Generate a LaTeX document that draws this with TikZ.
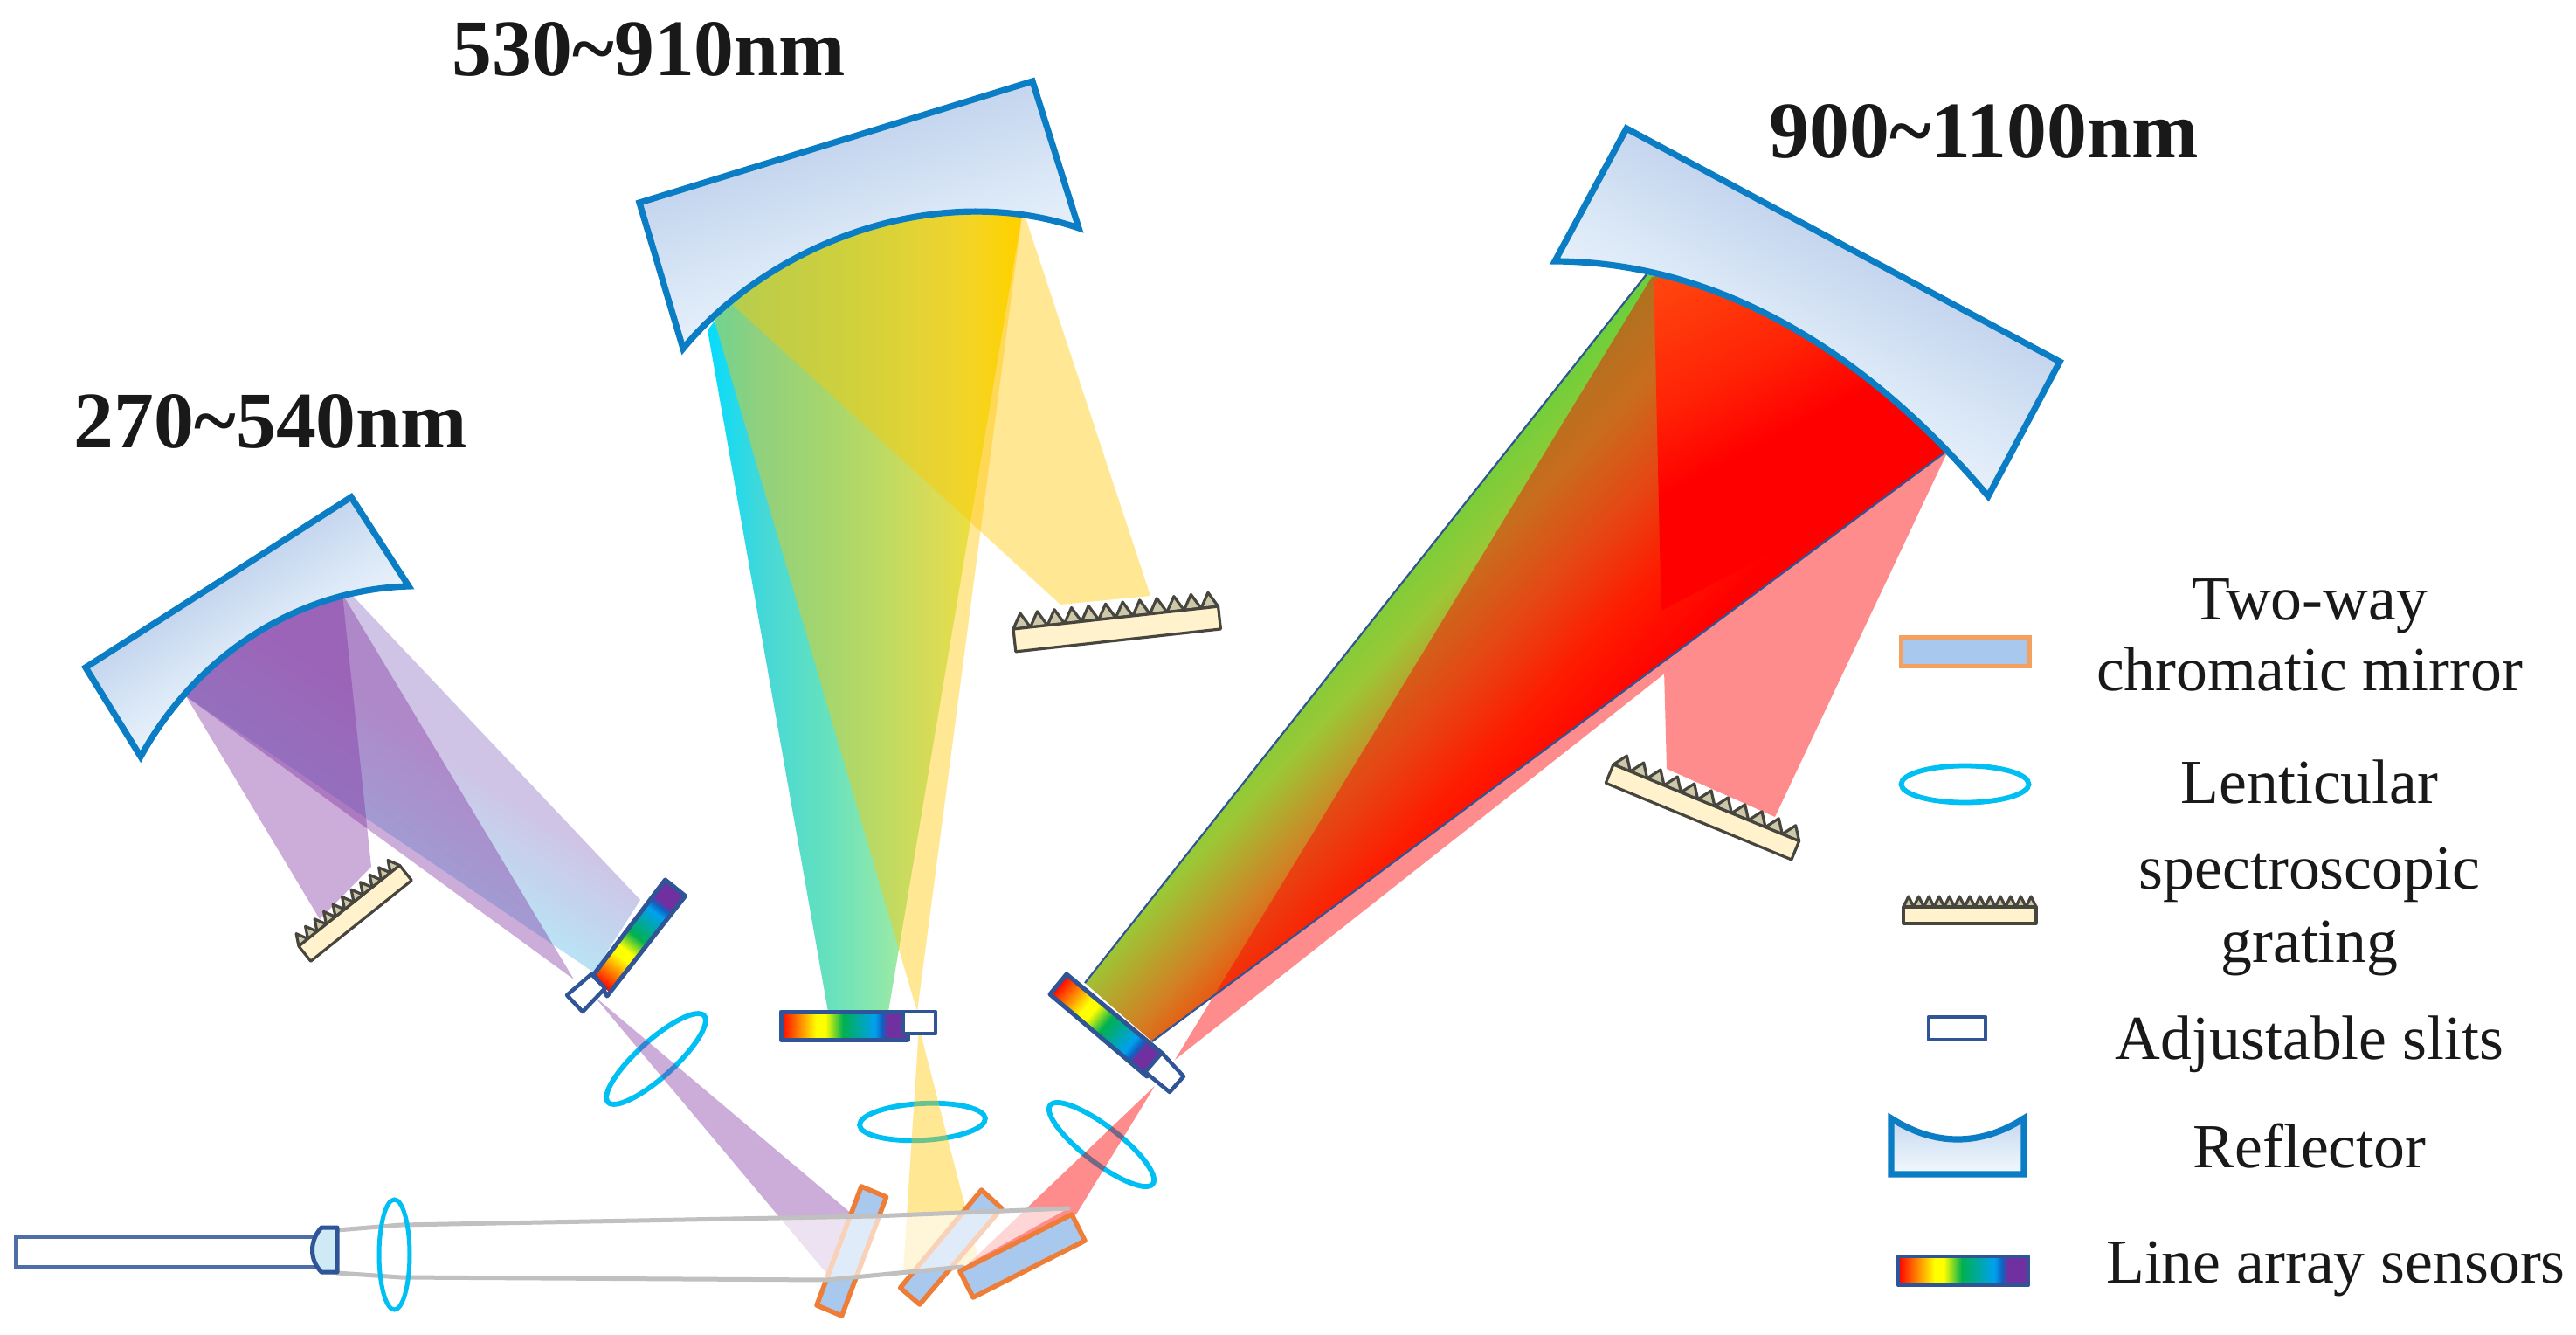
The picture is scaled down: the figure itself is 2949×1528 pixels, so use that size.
\documentclass[tikz,border=0pt]{standalone}
\usepackage{fontspec}
\setmainfont{Liberation Serif}
\usetikzlibrary{shapes.geometric}

\definecolor{refedge}{RGB}{10,125,196}
\definecolor{refa}{RGB}{196,213,238}
\definecolor{refb}{RGB}{220,233,247}
\definecolor{refc}{RGB}{243,248,253}
\definecolor{sensedge}{RGB}{47,85,151}
\definecolor{lenscol}{RGB}{0,191,243}
\definecolor{mirfill}{RGB}{169,200,238}
\definecolor{miredge}{RGB}{238,125,55}
\definecolor{miredgeb}{RGB}{244,160,96}
\definecolor{gratfill}{RGB}{255,242,204}
\definecolor{gratedge}{RGB}{70,70,62}
\definecolor{toothfill}{RGB}{205,200,170}
\definecolor{raygray}{RGB}{192,192,192}
\definecolor{capfill}{RGB}{207,233,245}

\definecolor{ra}{RGB}{255,0,0}
\definecolor{rb}{RGB}{255,255,0}
\definecolor{rc}{RGB}{0,176,80}
\definecolor{rd}{RGB}{0,160,240}
\definecolor{re}{RGB}{16,96,192}
\definecolor{rf}{RGB}{112,48,160}
\pgfdeclarehorizontalshading{rainbowbar}{100bp}{
 color(0bp)=(ra); color(25bp)=(ra); color(39bp)=(rb); color(42.5bp)=(rb); color(49.5bp)=(rc);
 color(62bp)=(rd); color(65bp)=(re); color(67bp)=(rf); color(75bp)=(rf); color(100bp)=(rf)}

\pgfdeclarehorizontalshading{reflshade}{100bp}{
 color(0bp)=(refa); color(25bp)=(refa); color(50bp)=(refb); color(75bp)=(refc); color(100bp)=(refc)}

\definecolor{ma}{RGB}{0,220,255}
\definecolor{mb}{RGB}{70,216,215}
\definecolor{mc}{RGB}{100,225,190}
\definecolor{md}{RGB}{145,232,170}
\definecolor{me}{RGB}{195,235,147}
\definecolor{mf}{RGB}{225,240,110}
\definecolor{mg}{RGB}{255,230,0}
\pgfdeclarehorizontalshading{midbeam}{100bp}{
 color(0bp)=(ma); color(25bp)=(ma); color(34.5bp)=(mb); color(44bp)=(mc); color(53.5bp)=(md);
 color(62bp)=(me); color(67bp)=(mf); color(73.5bp)=(mg); color(75bp)=(mg); color(100bp)=(mg)}

\definecolor{xa}{RGB}{91,210,60}
\definecolor{xb}{RGB}{155,200,54}
\definecolor{xc}{RGB}{209,130,36}
\definecolor{xd}{RGB}{255,50,0}
\definecolor{xe}{RGB}{255,0,0}
\pgfdeclarehorizontalshading{rightbeam}{100bp}{
 color(0bp)=(xa); color(25bp)=(xa); color(37.5bp)=(xb); color(47.5bp)=(xc); color(57.5bp)=(xd);
 color(67.5bp)=(xe); color(75bp)=(xe); color(100bp)=(xe)}

\definecolor{ya}{RGB}{255,70,15}
\definecolor{yb}{RGB}{255,35,5}
\definecolor{yc}{RGB}{255,0,0}
\pgfdeclarehorizontalshading{redcore}{100bp}{
 color(0bp)=(ya); color(25bp)=(ya); color(45bp)=(yb); color(58bp)=(yc); color(75bp)=(yc); color(100bp)=(yc)}

\definecolor{la}{RGB}{207,196,230}
\definecolor{lb}{RGB}{183,230,246}
\pgfdeclarehorizontalshading{leftbeam}{100bp}{
 color(0bp)=(la); color(25bp)=(la); color(45bp)=(la); color(62.5bp)=(lb); color(75bp)=(lb); color(100bp)=(lb)}

\tikzset{
 refline/.style={draw=refedge,line width=.72mm,line join=miter},
 sensline/.style={draw=sensedge,line width=.5mm,line join=round},
 slitbox/.style={draw=sensedge,fill=white,line width=.45mm,line join=round},
 lensring/.style={draw=lenscol,line width=.58mm},
 mirrorbox/.style={draw=miredge,fill=mirfill,line width=.55mm,line join=round},
 gratebody/.style={draw=gratedge,fill=gratfill,line width=.32mm,line join=round},
 gratetooth/.style={draw=gratedge,fill=toothfill,line width=.32mm,line join=round},
 raypath/.style={draw=raygray,line width=.5mm,line cap=round},
 purplebeam/.style={fill={rgb,255:red,128;green,48;blue,160},fill opacity=.4},
 yellowbeam/.style={fill={rgb,255:red,255;green,200;blue,0},fill opacity=.42},
 redbeam/.style={fill={rgb,255:red,255;green,0;blue,0},fill opacity=.45},
 legendtext/.style={font=\fontsize{20.4}{24}\selectfont,anchor=base,inner sep=0pt,text=black!90},
 headtext/.style={font=\fontsize{26.1}{30}\selectfont\bfseries,anchor=base,inner sep=0pt,text=black!90}
}

% fill a path with a shading laid along the line from (x1,y1) to (x2,y2)
\newcommand\gradpoly[6]{%
 \begin{scope}
  \clip #1;
  \pgfmathsetmacro\gradlen{veclen(#5-#3,#6-#4)}
  \pgfmathsetmacro\gradang{atan2(#4-#6,#5-#3)}
  \begin{scope}[transform canvas={shift={(#3,#4)},rotate=\gradang}]
   \shade[shading=#2] (0,-3000) rectangle (\gradlen,3000);
  \end{scope}
 \end{scope}}

% grating: x, y (top-left of body), angle, length, thickness, teeth, tooth height
\newcommand\gratingpart[7]{%
 \begin{scope}[shift={(#1,#2)},rotate=#3]
  \pgfmathsetmacro\toothw{#4/#6}
  \foreach \k in {1,...,#6}{
   \pgfmathsetmacro\ta{(\k-1)*\toothw}
   \pgfmathsetmacro\tb{\k*\toothw}
   \pgfmathsetmacro\tm{(\ta+\tb)/2}
   \draw[gratetooth] (\ta,0) -- (\tm,-#7) -- (\tb,0) -- cycle;
  }
  \draw[gratebody] (0,0) rectangle (#4,#5);
 \end{scope}}

\begin{document}
\begin{tikzpicture}[x=.1mm,y=-.1mm]
\useasboundingbox (0,0) rectangle (2949,1528);
\fill[white] (0,0) rectangle (2949,1528);

% lenses on the beams (under the translucent beams)
\draw[lensring,shift={(751,1212)},rotate=42] (0,0) ellipse [x radius=74,y radius=21];
\draw[lensring,shift={(1056,1284)},rotate=3] (0,0) ellipse [x radius=72,y radius=21];
\draw[lensring,shift={(1261,1310)},rotate=-37.5] (0,0) ellipse [x radius=74,y radius=21];

% ---------- left channel beams
\gradpoly{(402,680) -- (733,1030) -- (680,1113) -- (213,797) -- (290,700) -- cycle}{leftbeam}{600}{750}{400}{1050}
\fill[purplebeam] (392,680) -- (425,992) -- (366,1052) -- (213,797) -- (290,700) -- cycle;
\fill[purplebeam] (657,1121) -- (213,797) -- (290,700) -- (392,680) -- cycle;
\fill[purplebeam] (680,1140) -- (976,1390) -- (950,1462) -- cycle;

% ---------- middle channel beams
\gradpoly{(810,378) -- (900,260) -- (1171,240) -- (1017,1158) -- (948,1158) -- cycle}{midbeam}{805}{0}{1171}{0}
\fill[yellowbeam] (1171,240) -- (1317,682) -- (1214,692) -- (839,349) -- (950,250) -- cycle;
\fill[yellowbeam] (1050,1158) -- (812,347) -- (950,250) -- (1171,240) -- cycle;
\fill[yellowbeam] (1052,1175) -- (1034,1455) -- (1060,1470) -- (1120,1440) -- cycle;

% ---------- right channel beams
\gradpoly{(1885,314) -- (2050,350) -- (2229,516) -- (1319,1192) -- (1242,1125) -- cycle}{rightbeam}{1870}{300}{2168}{581}
\fill[redbeam] (1893,310) -- (2050,350) -- (2232,512) -- (2032,935) -- (1908,880) -- cycle
               (1345,1213) -- (1891,317) -- (2050,350) -- (2229,516) -- cycle;
\gradpoly{(1893,310) -- (2050,350) -- (2229,516) -- (1903,758) -- cycle}{redcore}{1895}{320}{2052.5}{620}
\fill[redbeam] (1322,1243) -- (1105,1450) -- (1232,1390) -- cycle;
\draw[draw=sensedge,line width=.22mm] (1885,314) -- (1242,1125) (1319,1192) -- (2229,516);

% ---------- sensors and slits
\gradpoly{(695,1140) -- (680,1115) -- (761.5,1007) -- (784.5,1025.5) -- cycle}{rainbowbar}{687}{1127}{773}{1016}
\draw[sensline] (695,1140) -- (680,1115) -- (761.5,1007) -- (784.5,1025.5) -- cycle;
\draw[slitbox] (677,1115) -- (692.7,1131) -- (667,1158) -- (649,1139) -- cycle;

\gradpoly{(894,1158) rectangle (1039,1190)}{rainbowbar}{894}{0}{1039}{0}
\draw[sensline] (894,1158) rectangle (1039,1190);
\draw[slitbox] (1034,1158) rectangle (1071,1183);

\gradpoly{(1221,1115) -- (1202,1138) -- (1313,1232) -- (1332,1207) -- cycle}{rainbowbar}{1211}{1127}{1323}{1220}
\draw[sensline] (1221,1115) -- (1202,1138) -- (1313,1232) -- (1332,1207) -- cycle;
\draw[slitbox] (1330,1205) -- (1355,1232) -- (1339,1250) -- (1311,1227) -- cycle;

% ---------- gratings
\gratingpart{342}{1083}{38.7}{148}{22}{11}{13}
\gratingpart{1160}{720}{6.3}{236}{26}{12}{17}
\gratingpart{1847}{875}{-22.4}{230}{23}{11}{15}

% ---------- reflectors
\gradpoly{(98,764) -- (402,569) -- (468,671) .. controls (340,675) and (225,750) .. (161,866) -- cycle}{reflshade}{250}{666}{331}{792}
\draw[refline] (98,764) -- (402,569) -- (468,671) .. controls (340,675) and (225,750) .. (161,866) -- cycle;
\gradpoly{(732,232) -- (1182,93) -- (1235,261) .. controls (1070,205) and (880,280) .. (782,399) -- cycle}{reflshade}{957}{163}{1028}{393}
\draw[refline] (732,232) -- (1182,93) -- (1235,261) .. controls (1070,205) and (880,280) .. (782,399) -- cycle;
\gradpoly{(1862,147) -- (2358,414) -- (2276,568) .. controls (2130,395) and (1960,300) .. (1780,299) -- cycle}{reflshade}{2110}{280}{1996}{491}
\draw[refline] (1862,147) -- (2358,414) -- (2276,568) .. controls (2130,395) and (1960,300) .. (1780,299) -- cycle;

% ---------- mirrors and source beam
\draw[mirrorbox] (986,1358) -- (1014.6,1370) -- (963.7,1506) -- (935,1494) -- cycle;
\draw[mirrorbox] (1123.6,1362) -- (1146.6,1383) -- (1052.8,1493) -- (1030.6,1474) -- cycle;
\fill[white,fill opacity=.65] (386,1408) -- (459,1402) -- (1000,1392) -- (1223,1383) -- (1102,1450) -- (946,1465) -- (459,1462) -- (386,1457) -- cycle;
\draw[raypath] (386,1408) -- (459,1402) -- (1000,1392) -- (1223,1383);
\draw[raypath] (386,1457) -- (459,1462) -- (946,1465) -- (1102,1450);
\draw[mirrorbox] (1098.8,1455) -- (1227,1390) -- (1242,1420) -- (1114,1485) -- cycle;
\draw[lensring,line width=.5mm] (451.5,1436) ellipse [x radius=17.5,y radius=63];
\draw[draw=sensedge!85!white,fill=white,line width=.5mm] (18,1415) rectangle (363,1450);
\draw[draw=sensedge,fill=capfill,line width=.5mm,line join=round] (368,1405) .. controls (354,1420) and (354,1442) .. (368,1456) -- (386,1456) -- (386,1405) -- cycle;

% ---------- legend
\draw[draw=miredgeb,fill=mirfill,line width=.5mm] (2176,729) rectangle (2323,762);
\draw[lensring] (2249.5,897.5) ellipse [x radius=73,y radius=21];
\gratingpart{2179}{1038}{0}{152}{19}{13}{12}
\draw[slitbox] (2208,1164) rectangle (2273,1190);
\gradpoly{(2165,1280) .. controls (2215,1312) and (2267,1312) .. (2317,1280) -- (2317,1344) -- (2165,1344) -- cycle}{reflshade}{2241}{1280}{2241}{1344}
\draw[refline] (2165,1280) .. controls (2215,1312) and (2267,1312) .. (2317,1280) -- (2317,1344) -- (2165,1344) -- cycle;
\gradpoly{(2173,1438) rectangle (2322,1471)}{rainbowbar}{2173}{0}{2322}{0}
\draw[sensline,line width=.4mm] (2173,1438) rectangle (2322,1471);

% ---------- texts
\node[headtext] (h1) at (743,86) {530\textasciitilde 910nm};
\node[headtext] (h2) at (2271,180) {900\textasciitilde 1100nm};
\node[headtext] (h3) at (310,512) {270\textasciitilde 540nm};
\node[legendtext] (t1) at (2644,709) {Two-way};
\node[legendtext] (t2) at (2644,790) {chromatic mirror};
\node[legendtext] (t3) at (2644,919) {Lenticular};
\node[legendtext] (t4) at (2644,1017) {spectroscopic};
\node[legendtext] (t5) at (2644,1101) {grating};
\node[legendtext] (t6) at (2644,1212) {Adjustable slits};
\node[legendtext] (t7) at (2644,1336) {Reflector};
\node[legendtext] (t8) at (2674,1468) {Line array sensors};
\end{tikzpicture}
\end{document}
